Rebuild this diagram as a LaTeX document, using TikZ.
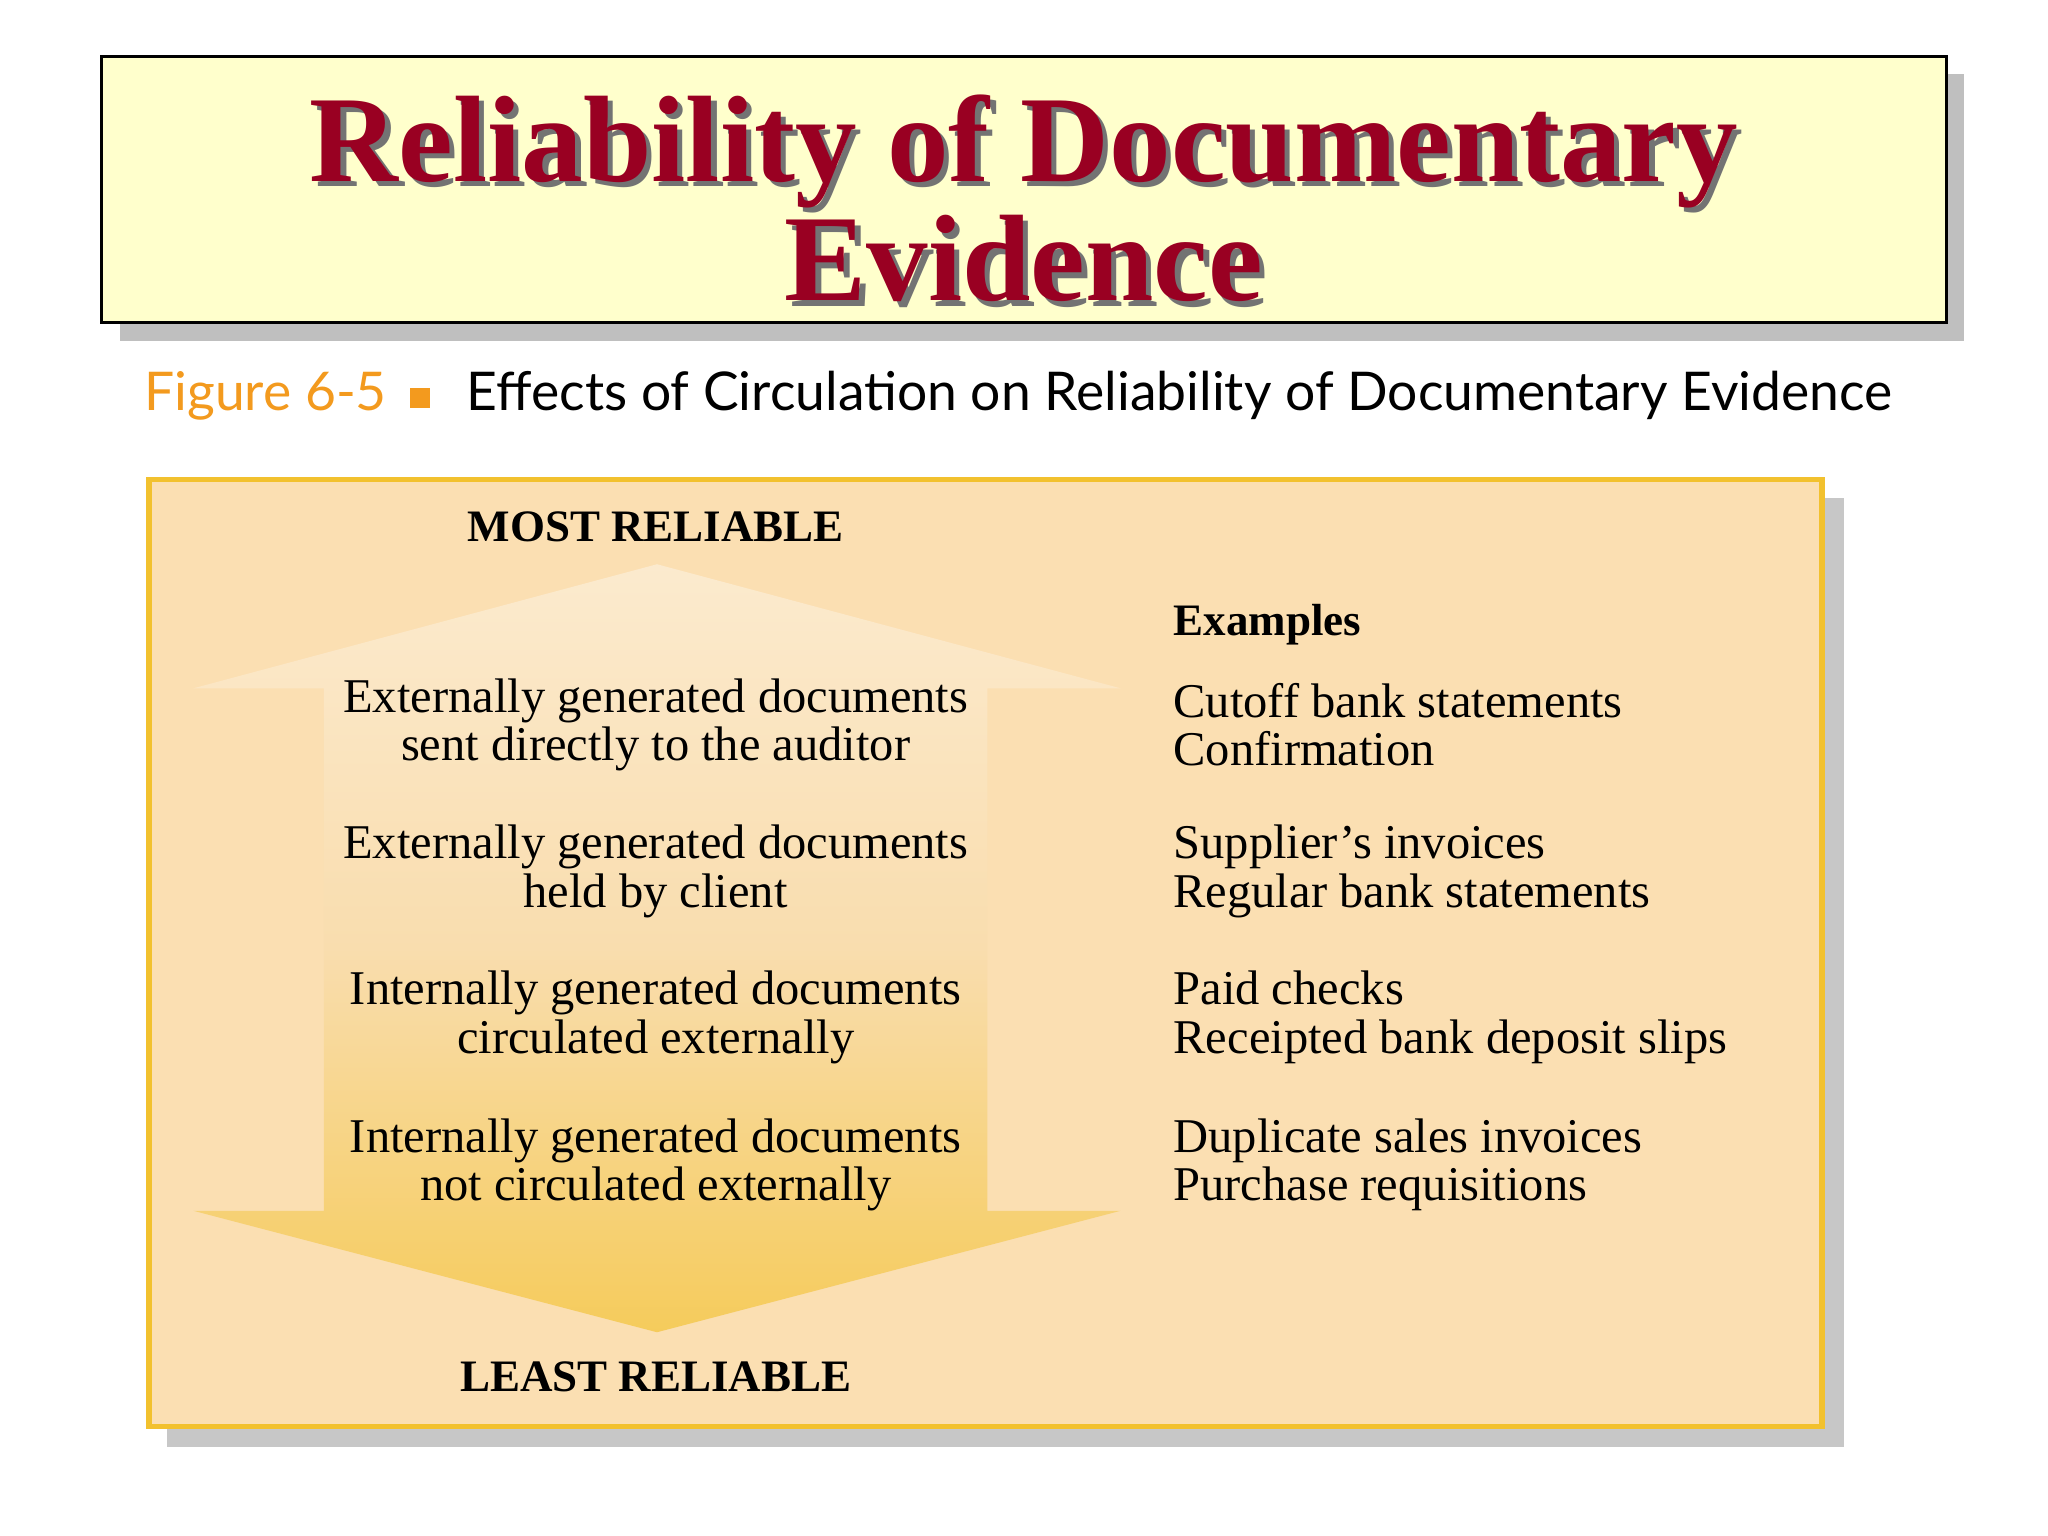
\documentclass[tikz,border=0pt]{standalone}
\usepackage{fontspec}
\setmainfont{Liberation Serif}
\newfontfamily\subfont{Lato}
\usetikzlibrary{shadings}
\definecolor{titlered}{HTML}{990022}
\definecolor{titlebg}{HTML}{FFFFCC}
\definecolor{panelbg}{HTML}{FBDFB2}
\definecolor{panelline}{HTML}{F2C12E}
\definecolor{figorange}{HTML}{F39A1E}
\definecolor{arrtop}{HTML}{FEF8EE}
\definecolor{arrmid}{HTML}{F9DDAE}
\definecolor{arrbot}{HTML}{F2BC14}
\tikzset{
 body/.style={font=\fontsize{13.8}{13.8}\selectfont, align=center, inner sep=0pt},
 ex/.style={font=\fontsize{13.8}{13.8}\selectfont, align=left, anchor=west, inner sep=0pt},
 head/.style={font=\bfseries\fontsize{12.8}{14}\selectfont, inner sep=0pt},
 ttl/.style={font=\bfseries\fontsize{35}{34}\selectfont, align=center, inner sep=0pt}
}
\pgfdeclareverticalshading{arrsh}{100bp}{color(0bp)=(arrbot); color(15bp)=(arrbot!75!arrmid); color(50bp)=(arrmid); color(70bp)=(arrmid!60!arrtop); color(100bp)=(arrtop)}
\begin{document}
\begin{tikzpicture}[x=0.013061cm,y=-0.013061cm]
\useasboundingbox (0,0) rectangle (1568,1176);
\fill[white] (0,0) rectangle (1568,1176);
% title
\fill[black!25] (92,57) rectangle (1504,261);
\draw[fill=titlebg, line width=0.8pt] (78,43) rectangle (1490,247);
\node[ttl, text=black!55] at (788,156) {Reliability of Documentary\\Evidence};
\node[ttl, text=titlered] (title) at (784,152) {Reliability of Documentary\\Evidence};
% subtitle
\node[anchor=west, inner sep=0pt, font=\subfont\fontsize{15.2}{18}\selectfont, text=figorange] (fig) at (110,303) {Figure 6-5};
\fill[figorange] (314,297) rectangle (329,312);
\node[anchor=west, inner sep=0pt, font=\subfont\fontsize{15.2}{18}\selectfont] (cap) at (357,303) {Effects of Circulation on Reliability of Documentary Evidence};
% panel
\fill[black!22] (128,381) rectangle (1412,1108);
\draw[fill=panelbg, draw=panelline, line width=1.5pt] (114,367) rectangle (1395,1092);
% arrow
\path[shade, shading=arrsh] (503,432) -- (858,527) -- (756,527) -- (756,927) -- (858,927) -- (503,1020) -- (148,927) -- (248,927) -- (248,527) -- (148,527) -- cycle;
\node[head] (most) at (502,403) {MOST RELIABLE};
\node[head] (least) at (502,1054) {LEAST RELIABLE};
\node[body] (b1) at (502,555) {Externally generated documents\\sent directly to the auditor};
\node[body] (b2) at (502,667) {Externally generated documents\\held by client};
\node[body] (b3) at (502,779) {Internally generated documents\\circulated externally};
\node[body] (b4) at (502,892) {Internally generated documents\\not circulated externally};
\node[head, anchor=west] (exh) at (898,478) {Examples};
\node[ex] (e1) at (898,555) {Cutoff bank statements\\Confirmation};
\node[ex] (e2) at (898,667) {Supplier’s invoices\\Regular bank statements};
\node[ex] (e3) at (898,779) {Paid checks\\Receipted bank deposit slips};
\node[ex] (e4) at (898,892) {Duplicate sales invoices\\Purchase requisitions};
\end{tikzpicture}
\end{document}
